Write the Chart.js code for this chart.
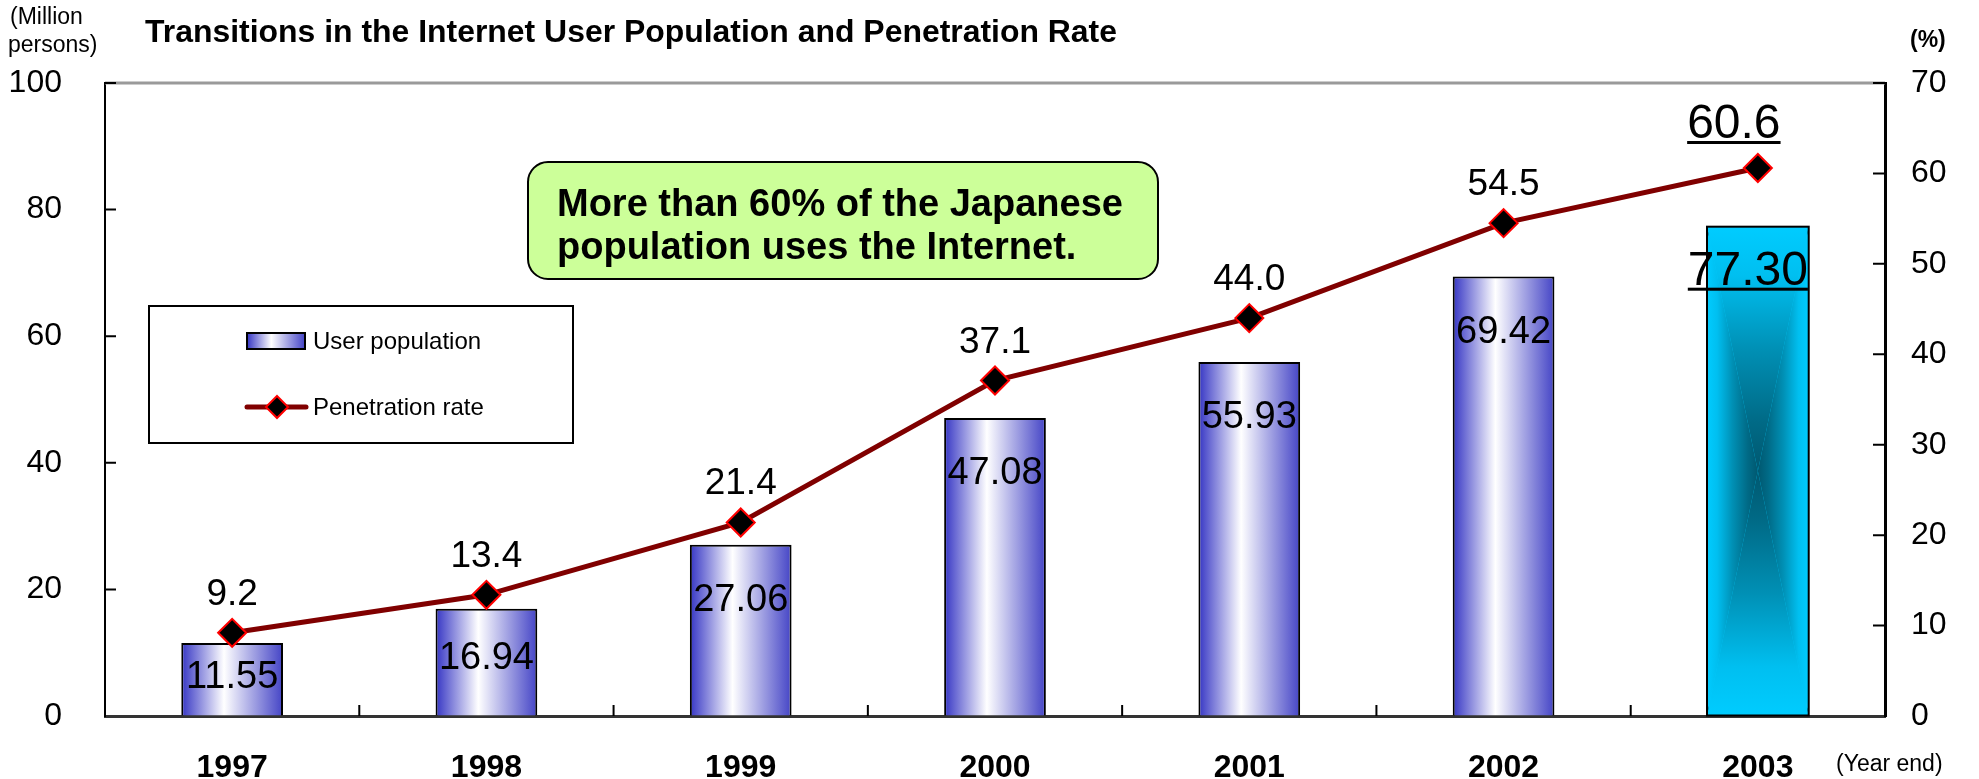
<!DOCTYPE html>
<html>
<head>
<meta charset="utf-8">
<script src="https://cdn.jsdelivr.net/npm/chart.js@4.4.0/dist/chart.umd.min.js"></script>
<style>
  html, body { margin: 0; padding: 0; background: #fff; }
  #wrap { width: 1979px; height: 779px; }
</style>
</head>
<body>
<div id="wrap"><canvas id="chart" width="1979" height="779"></canvas></div>
<script>
// Data
const years = ['1997', '1998', '1999', '2000', '2001', '2002', '2003'];
const userPopulation = [11.55, 16.94, 27.06, 47.08, 55.93, 69.42, 77.30];
const penetrationRate = [9.2, 13.4, 21.4, 37.1, 44.0, 54.5, 60.6];
const userLabels = ['11.55', '16.94', '27.06', '47.08', '55.93', '69.42', '77.30'];
const rateLabels = ['9.2', '13.4', '21.4', '37.1', '44.0', '54.5', '60.6'];
const highlightIndex = years.length - 1; // latest year is emphasised

const FONT = "'Liberation Sans', Arial, sans-serif";
Chart.defaults.font.family = FONT;
Chart.defaults.color = '#000';

const BAR_PCT = 0.4;

// Blue-white-blue horizontal fill for regular bars
function barFill(context) {
  const chart = context.chart;
  const xs = chart.scales.x;
  if (!xs || context.dataIndex === undefined) return '#4646c8';
  if (context.dataIndex === highlightIndex) return '#00ccff';
  const cx = xs.getPixelForValue(context.dataIndex);
  const half = xs.width / years.length * BAR_PCT / 2;
  if (!isFinite(cx) || !isFinite(half) || half <= 0) return '#4646c8';
  const g = chart.ctx.createLinearGradient(cx - half, 0, cx + half, 0);
  g.addColorStop(0, '#3535c4');
  g.addColorStop(0.42, '#ffffff');
  g.addColorStop(1, '#4444c6');
  return g;
}

function edgeGradient(ctx, x0, y0, x1, y1) {
  const g = ctx.createLinearGradient(x0, y0, x1, y1);
  g.addColorStop(0, '#00ccff');
  g.addColorStop(0.2, '#00bff0');
  g.addColorStop(0.5, '#0090b5');
  g.addColorStop(0.8, '#006a86');
  g.addColorStop(1, '#005870');
  return g;
}

// Path-style gradient on the highlighted bar
const highlightBar = {
  id: 'highlightBar',
  afterDatasetDraw(chart, args) {
    if (args.index !== 0) return;
    const el = args.meta.data[highlightIndex];
    if (!el) return;
    const { x, y, base, width } = el.getProps(['x', 'y', 'base', 'width'], true);
    const ctx = chart.ctx;
    const l = x - width / 2, r = x + width / 2, t = y, b = base;
    const cx = x, cy = t + (b - t) * 0.5;
    ctx.save();
    ctx.beginPath();
    ctx.rect(l, t, r - l, b - t);
    ctx.clip();
    const tri = (p, g) => {
      ctx.beginPath();
      ctx.moveTo(p[0], p[1]); ctx.lineTo(p[2], p[3]); ctx.lineTo(cx, cy);
      ctx.closePath();
      ctx.fillStyle = g;
      ctx.fill();
    };
    tri([l, t, r, t], edgeGradient(ctx, 0, t, 0, cy));
    tri([l, b, r, b], edgeGradient(ctx, 0, b, 0, cy));
    tri([l, t, l, b], edgeGradient(ctx, l, 0, cx, 0));
    tri([r, t, r, b], edgeGradient(ctx, r, 0, cx, 0));
    ctx.restore();
    ctx.save();
    ctx.strokeStyle = '#000';
    ctx.lineWidth = 2;
    ctx.strokeRect(l, t, r - l, b - t);
    ctx.restore();
  }
};

function underlinedText(ctx, text, x, y) {
  ctx.fillText(text, x, y);
  const w = ctx.measureText(text).width;
  ctx.fillRect(x - w / 2, y + 3, w, 3);
}

// Frame, inward tick marks, value labels, titles
const decorations = {
  id: 'decorations',
  afterDatasetsDraw(chart) {
    const ctx = chart.ctx;
    const area = chart.chartArea;
    const xs = chart.scales.x, ys = chart.scales.y, ys1 = chart.scales.y1;
    ctx.save();

    // top frame
    ctx.strokeStyle = '#9a9a9a';
    ctx.lineWidth = 3;
    ctx.beginPath();
    ctx.moveTo(area.left, area.top);
    ctx.lineTo(area.right, area.top);
    ctx.stroke();

    // inward ticks
    ctx.strokeStyle = '#000';
    ctx.lineWidth = 2;
    ctx.beginPath();
    ys.ticks.forEach(t => {
      if (t.value === 0) return;
      const py = ys.getPixelForValue(t.value);
      ctx.moveTo(area.left, py); ctx.lineTo(area.left + 11, py);
    });
    ys1.ticks.forEach(t => {
      if (t.value === 0) return;
      const py = ys1.getPixelForValue(t.value);
      ctx.moveTo(area.right - 12, py); ctx.lineTo(area.right, py);
    });
    const catW = xs.width / years.length;
    for (let i = 1; i < years.length; i++) {
      const px = xs.left + i * catW;
      ctx.moveTo(px, area.bottom); ctx.lineTo(px, area.bottom - 11);
    }
    ctx.stroke();

    // bar value labels
    ctx.fillStyle = '#000';
    ctx.textAlign = 'center';
    const barMeta = chart.getDatasetMeta(0);
    barMeta.data.forEach((el, i) => {
      if (i === highlightIndex) {
        ctx.font = '48px ' + FONT;
        ctx.textBaseline = 'alphabetic';
        underlinedText(ctx, userLabels[i], el.x - 10, el.y + 58);
      } else {
        const h = el.base - el.y;
        ctx.font = '38px ' + FONT;
        ctx.textBaseline = 'middle';
        ctx.fillText(userLabels[i], el.x, el.y + Math.min(h * 0.47, 56));
      }
    });

    // line value labels
    const lineMeta = chart.getDatasetMeta(1);
    ctx.textBaseline = 'alphabetic';
    lineMeta.data.forEach((el, i) => {
      if (i === highlightIndex) {
        ctx.font = '48px ' + FONT;
        underlinedText(ctx, rateLabels[i], el.x - 24, el.y - 30);
      } else {
        ctx.font = '37px ' + FONT;
        ctx.fillText(rateLabels[i], el.x, el.y - 28);
      }
    });
    ctx.restore();
  },
  afterDraw(chart) {
    const ctx = chart.ctx;
    ctx.save();
    ctx.fillStyle = '#000';
    ctx.textBaseline = 'alphabetic';

    // title, fitted to the reference width
    ctx.font = 'bold 32px ' + FONT;
    ctx.textAlign = 'left';
    const title = 'Transitions in the Internet User Population and Penetration Rate';
    const tw = ctx.measureText(title).width;
    ctx.save();
    ctx.translate(145, 42);
    ctx.scale(972 / tw, 1);
    ctx.fillText(title, 0, 0);
    ctx.restore();

    // unit labels
    ctx.font = '23px ' + FONT;
    ctx.fillText('(Million', 10, 24);
    ctx.fillText('persons)', 8, 52);
    ctx.font = 'bold 23px ' + FONT;
    ctx.fillText('(%)', 1910, 47);
    ctx.font = '23px ' + FONT;
    ctx.fillText('(Year end)', 1836, 771);

    // legend box
    ctx.fillStyle = '#fff';
    ctx.fillRect(149, 306, 424, 137);
    ctx.strokeStyle = '#000';
    ctx.lineWidth = 2;
    ctx.strokeRect(149, 306, 424, 137);
    const lg = ctx.createLinearGradient(247, 0, 305, 0);
    lg.addColorStop(0, '#3535c4');
    lg.addColorStop(0.42, '#ffffff');
    lg.addColorStop(1, '#4444c6');
    ctx.fillStyle = lg;
    ctx.fillRect(247, 333, 58, 16);
    ctx.strokeRect(247, 333, 58, 16);
    ctx.strokeStyle = '#800000';
    ctx.lineWidth = 5;
    ctx.lineCap = 'round';
    ctx.beginPath();
    ctx.moveTo(247, 407); ctx.lineTo(306, 407);
    ctx.stroke();
    ctx.beginPath();
    ctx.moveTo(277, 396); ctx.lineTo(288, 407); ctx.lineTo(277, 418); ctx.lineTo(266, 407);
    ctx.closePath();
    ctx.fillStyle = '#000';
    ctx.fill();
    ctx.strokeStyle = '#ff0000';
    ctx.lineWidth = 2;
    ctx.stroke();
    ctx.fillStyle = '#000';
    ctx.font = '24px ' + FONT;
    ctx.textBaseline = 'middle';
    ctx.fillText('User population', 313, 342);
    ctx.fillText('Penetration rate', 313, 408);

    // callout
    ctx.beginPath();
    ctx.roundRect(528, 162, 630, 117, 20);
    ctx.fillStyle = '#ccff99';
    ctx.fill();
    ctx.strokeStyle = '#000';
    ctx.lineWidth = 2;
    ctx.stroke();
    ctx.fillStyle = '#000';
    ctx.font = 'bold 38px ' + FONT;
    ctx.textBaseline = 'alphabetic';
    ctx.fillText('More than 60% of the Japanese', 557, 216);
    ctx.fillText('population uses the Internet.', 557, 259);
    ctx.restore();
  }
};

const ctx = document.getElementById('chart').getContext('2d');
new Chart(ctx, {
  type: 'bar',
  data: {
    labels: years,
    datasets: [
      {
        type: 'bar',
        label: 'User population',
        data: userPopulation,
        yAxisID: 'y',
        backgroundColor: barFill,
        borderColor: '#000',
        borderWidth: 2,
        barPercentage: BAR_PCT,
        categoryPercentage: 1,
        order: 1,
      },
      {
        type: 'line',
        label: 'Penetration rate',
        data: penetrationRate,
        yAxisID: 'y1',
        borderColor: '#800000',
        borderWidth: 5,
        tension: 0,
        pointStyle: 'rectRot',
        pointRadius: 14,
        pointBackgroundColor: '#000',
        pointBorderColor: '#ff0000',
        pointBorderWidth: 2,
        order: 0,
      },
    ],
  },
  options: {
    responsive: false,
    animation: false,
    layout: { padding: { top: 83, left: 0, right: 0, bottom: 0 } },
    plugins: {
      legend: { display: false },
      tooltip: { enabled: false },
    },
    scales: {
      x: {
        grid: { display: false },
        border: { display: true, color: '#333', width: 3 },
        ticks: { font: { size: 32, weight: 'bold' }, color: '#000', padding: 25 },
        afterFit: s => { s.height = 63; },
      },
      y: {
        position: 'left',
        min: 0,
        max: 100,
        ticks: { stepSize: 20, font: { size: 32 }, color: '#000', padding: 43 },
        grid: { drawOnChartArea: false, drawTicks: false },
        border: { display: true, color: '#000', width: 2 },
        afterFit: s => { s.width = 105; },
      },
      y1: {
        position: 'right',
        min: 0,
        max: 70,
        ticks: { stepSize: 10, font: { size: 32 }, color: '#000', padding: 26 },
        grid: { drawOnChartArea: false, drawTicks: false },
        border: { display: true, color: '#000', width: 3 },
        afterFit: s => { s.width = 94; },
      },
    },
  },
  plugins: [highlightBar, decorations],
});
</script>
</body>
</html>
